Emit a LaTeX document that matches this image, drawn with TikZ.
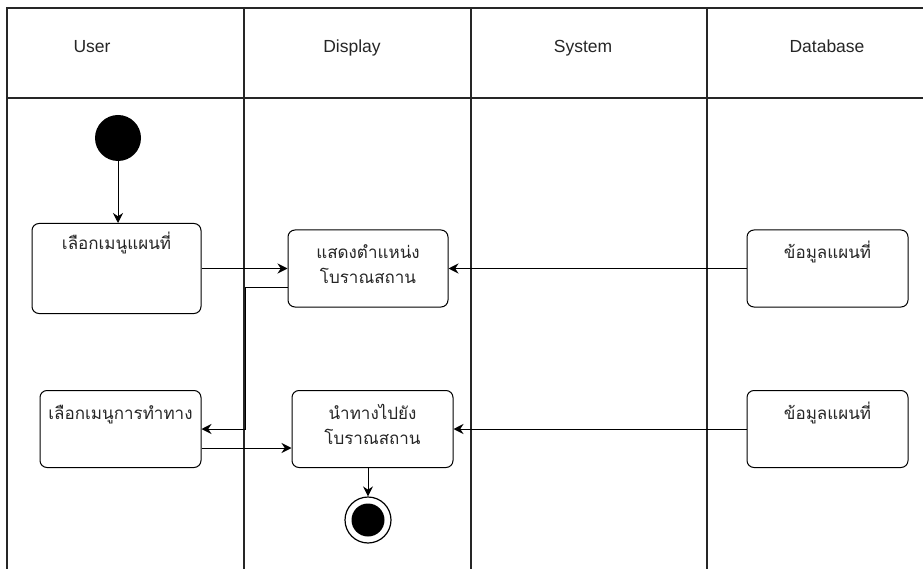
\documentclass[tikz,border=0pt]{standalone}
\usepackage{fontspec}
\setmainfont{Liberation Sans}
\newfontfamily\thaifont[Script=Thai]{Loma}
\usetikzlibrary{arrows.meta}

\begin{document}
\begin{tikzpicture}[x=1pt,y=-1pt,
  lane/.style={line width=1.3pt,black!85},
  lanehead/.style={font=\fontsize{17.5}{20}\selectfont,anchor=base,inner sep=0pt,text=black!85},
  actbox/.style={draw,line width=1pt,rounded corners=7pt,minimum width=#1,inner sep=0pt},
  acttext/.style={font=\fontsize{17}{25}\thaifont,align=center,anchor=base,inner sep=0pt,text=black!85},
  flow/.style={draw,line width=1pt,-{Stealth[length=10pt,width=10pt]}}]
\useasboundingbox (0,0) rectangle (923,569);
\fill[white] (0,0) rectangle (923,569);
% swimlanes
\draw[lane] (7,569) -- (7,8) -- (923,8);
\draw[lane] (7,98) -- (923,98);
\draw[lane] (244,8) -- (244,569);
\draw[lane] (471,8) -- (471,569);
\draw[lane] (707,8) -- (707,569);
\node[lanehead] (huser) at (92,53) {User};
\node[lanehead] (hdisp) at (352,53) {Display};
\node[lanehead] (hsys) at (583,53) {System};
\node[lanehead] (hdb) at (827,53) {Database};
% states
\node[circle,fill=black,minimum size=46pt,inner sep=0pt] (start) at (118,138) {};
\node[circle,draw,line width=1.2pt,minimum size=46pt,inner sep=0pt] (stop) at (368,520) {};
\fill[black] (stop.center) circle (16.5pt);
% activities
\node[actbox=169pt,minimum height=90pt] (selmap) at (116.5,268.5) {};
\node[actbox=160pt,minimum height=77pt] (showpos) at (368,268.5) {};
\node[actbox=161pt,minimum height=77pt] (selnav) at (120.5,429) {};
\node[actbox=161pt,minimum height=77pt] (navto) at (372.5,429) {};
\node[actbox=161pt,minimum height=77pt] (mapdataA) at (827.5,268.5) {};
\node[actbox=161pt,minimum height=77pt] (mapdataB) at (827.5,429) {};
\node[acttext] (tselmap) at ([yshift=-27pt]selmap.north) {เลือกเมนูแผนที่};
\node[acttext] (tshowpos) at ([yshift=-54pt]showpos.north) {แสดงตำแหน่ง\\โบราณสถาน};
\node[acttext] (tselnav) at ([yshift=-29pt]selnav.north) {เลือกเมนูการทำทาง};
\node[acttext] (tnavto) at ([yshift=-54pt]navto.north) {นำทางไปยัง\\โบราณสถาน};
\node[acttext] (tmapdataA) at ([yshift=-29pt]mapdataA.north) {ข้อมูลแผนที่};
\node[acttext] (tmapdataB) at ([yshift=-29pt]mapdataB.north) {ข้อมูลแผนที่};
% flows
\draw[flow] (start) -- (selmap.north -| start);
\draw[flow] (selmap.east) -- (showpos.west);
\draw[flow] (mapdataA.west) -- (showpos.east);
\draw[flow] ([yshift=-18.5pt]showpos.west) -- ++(-42,0) |- (selnav.east);
\draw[flow] ([yshift=-19pt]selnav.east) -- ([yshift=-19pt]selnav.east -| navto.west);
\draw[flow] (mapdataB.west) -- (navto.east);
\draw[flow] (navto.south -| stop) -- (stop);
\end{tikzpicture}
\end{document}
